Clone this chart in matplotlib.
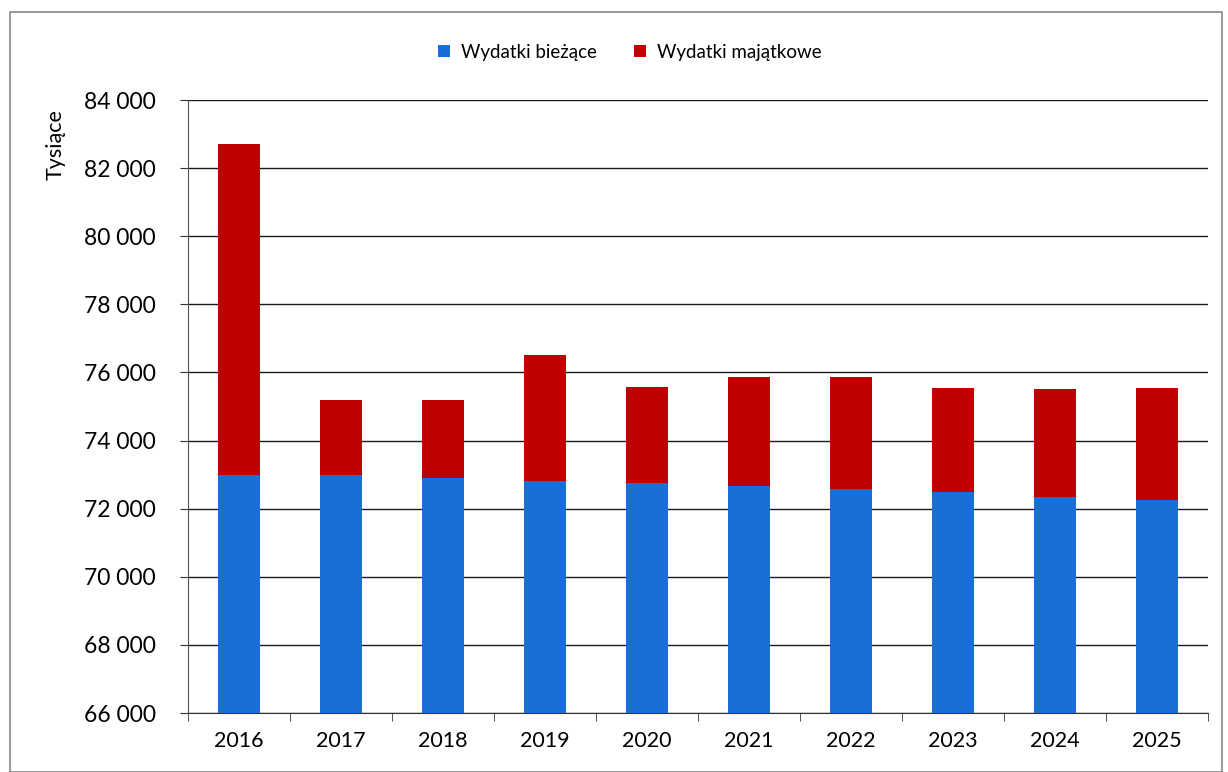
import matplotlib
matplotlib.use("Agg")
import matplotlib.pyplot as plt
from matplotlib.ticker import FuncFormatter, FixedLocator
import numpy as np

plt.rcParams['font.family'] = ['Lato', 'DejaVu Sans']

years = ["2016", "2017", "2018", "2019", "2020", "2021", "2022", "2023", "2024", "2025"]
biezace = [73000, 73000, 72900, 72800, 72750, 72680, 72580, 72480, 72350, 72250]
totals = [82700, 75200, 75200, 76500, 75570, 75870, 75870, 75530, 75510, 75550]
majatkowe = [t - b for t, b in zip(totals, biezace)]

blue = "#1a6fd4"
red = "#c00000"

fig = plt.figure(figsize=(12.28, 7.72), dpi=100)
ax = fig.add_axes([188/1228, 1 - 713/772, (1208-188)/1228, (713-100)/772])

x = np.arange(len(years))
ax.bar(x, biezace, width=0.41, color=blue, label="Wydatki bieżące", zorder=3)
ax.bar(x, majatkowe, width=0.41, bottom=biezace, color=red, label="Wydatki majątkowe", zorder=3)

ax.set_ylim(66000, 84000)
ax.set_xlim(-0.5, len(years) - 0.5)
ax.set_yticks(np.arange(66000, 84001, 2000))
ax.yaxis.set_major_formatter(FuncFormatter(lambda v, p: f"{int(v):,}".replace(",", " ")))
ax.yaxis.grid(True, color="#1a1a1a", linewidth=1.0, zorder=0)

ax.set_xticks(x)
ax.set_xticklabels(years)
ax.xaxis.set_minor_locator(FixedLocator(np.arange(-0.5, len(years), 1)))
ax.tick_params(axis="x", which="major", length=0, pad=13, labelsize=15.5)
ax.tick_params(axis="x", which="minor", length=6, direction="out", color="#333333")
ax.tick_params(axis="y", length=6, direction="out", color="#333333", labelsize=16.5, pad=17)

for s in ["top", "right"]:
    ax.spines[s].set_visible(False)
ax.spines["left"].set_color("#555555")
ax.spines["bottom"].set_color("#333333")

ax.set_ylabel("Tysiące", fontsize=15.5)
ax.yaxis.set_label_coords(-0.12, 0.927)

fig.legend(loc="upper center", bbox_to_anchor=(0.513, 0.965), ncol=2, frameon=False,
           fontsize=13.5, handlelength=0.6, handleheight=0.6, columnspacing=2.0, handletextpad=0.6)

fig.patches.append(plt.Rectangle((10/1228, 0.0), 1212/1228, 1 - 12/772, transform=fig.transFigure,
                                 fill=False, edgecolor="#888888", linewidth=1.2))

fig.savefig("out.png", dpi=100)
